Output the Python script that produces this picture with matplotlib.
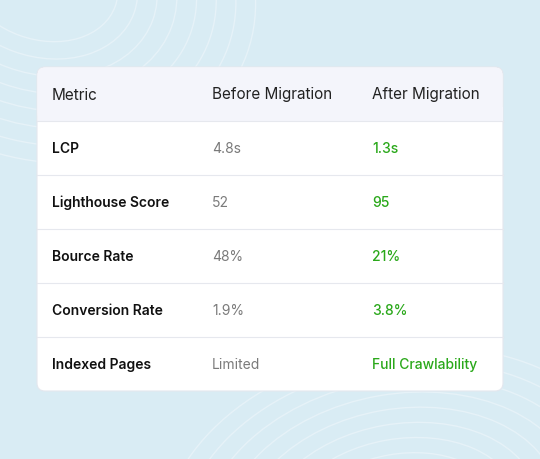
import matplotlib
matplotlib.use("Agg")
import matplotlib.pyplot as plt
from matplotlib.patches import FancyBboxPatch, Rectangle, Ellipse

headers = ["Metric", "Before Migration", "After Migration"]
metrics = ["LCP", "Lighthouse Score", "Bource Rate", "Conversion Rate", "Indexed Pages"]
before = ["4.8s", "52", "48%", "1.9%", "Limited"]
after = ["1.3s", "95", "21%", "3.8%", "Full Crawlability"]

plt.rcParams['font.family'] = ['Inter', 'DejaVu Sans']
fig = plt.figure(figsize=(5.4, 4.6), dpi=100)
ax = fig.add_axes([0, 0, 1, 1])
ax.set_xlim(0, 540); ax.set_ylim(460, 0); ax.axis('off')
fig.patch.set_facecolor('#d9ecf4')

# decorative contour lines
for i in range(8):
    ax.add_patch(Ellipse((40, -20), 160 + i * 40, 120 + i * 34, angle=20, fill=False, ec='#e6f2f8', lw=1))
    ax.add_patch(Ellipse((400, 520), 200 + i * 40, 130 + i * 30, angle=-10, fill=False, ec='#e6f2f8', lw=1))

x0, x1, top, bot = 37, 503, 68, 392
ax.add_patch(FancyBboxPatch((x0, top), x1 - x0, bot - top, boxstyle="round,pad=0,rounding_size=8",
                            fc='white', ec='#e4e7ee', lw=0.8))
ax.add_patch(FancyBboxPatch((x0 + 0.5, top + 0.5), x1 - x0 - 1, 54, boxstyle="round,pad=0,rounding_size=8",
                            fc='#f4f5fb', ec='none'))
ax.add_patch(Rectangle((x0 + 0.5, top + 40), x1 - x0 - 1, 14.5, fc='#f4f5fb', ec='none'))

colx = [52, 212, 372]
rowh = 54
for j, h in enumerate(headers):
    ax.text(colx[j], top + rowh / 2, h, fontsize=11, color='#222222', va='center', ha='left')
for i in range(len(metrics)):
    y0 = top + rowh * (i + 1)
    ax.plot([x0, x1], [y0, y0], color='#e6e8ee', lw=0.8)
    yc = y0 + rowh / 2
    ax.text(colx[0], yc, metrics[i], fontsize=10, color='#111111', weight='semibold', va='center')
    ax.text(colx[1], yc, before[i], fontsize=10, color='#7a7a7a', va='center')
    ax.text(colx[2], yc, after[i], fontsize=10, color='#2aa81a', weight='medium', va='center')

fig.savefig("out.png", dpi=100, facecolor=fig.get_facecolor())
